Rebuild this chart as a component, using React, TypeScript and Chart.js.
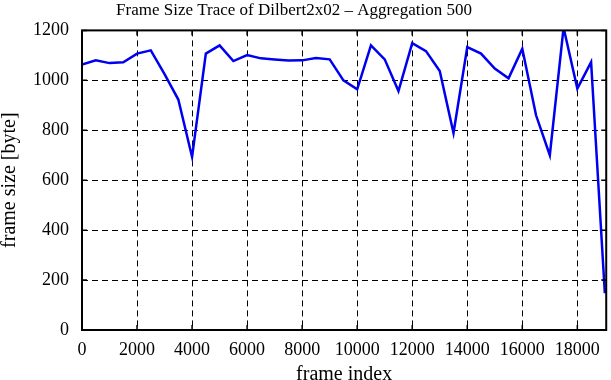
import React, { useEffect, useRef } from "react";
import { Chart, registerables } from "chart.js";

Chart.register(...registerables);

const frameIndex = [
  0, 500, 1000, 1500, 2000, 2500, 3000, 3500, 4000, 4500, 5000, 5500, 6000, 6500, 7000, 7500,
  8000, 8500, 9000, 9500, 10000, 10500, 11000, 11500, 12000, 12500, 13000, 13500, 14000, 14500,
  15000, 15500, 16000, 16500, 17000, 17500, 18000, 18500, 19000,
];
const frameSize = [
  1063, 1080, 1069, 1072, 1107, 1120, 1025, 923, 693, 1107, 1140, 1077, 1101, 1088, 1083, 1079,
  1080, 1089, 1084, 1000, 964, 1140, 1084, 957, 1149, 1117, 1037, 789, 1133, 1107,
  1047, 1008, 1127, 860, 700, 1211, 967, 1073, 147,
];
const xTicks = [0, 2000, 4000, 6000, 8000, 10000, 12000, 14000, 16000, 18000];
const yTicks = [0, 200, 400, 600, 800, 1000, 1200];

const FONT = "'Liberation Serif', 'DejaVu Serif', serif";

const framePlugin = {
  id: "frameBox",
  afterDraw(chart: any) {
    const { ctx, chartArea } = chart;
    const { left, right, top, bottom } = chartArea;
    ctx.save();
    ctx.strokeStyle = "#000";
    ctx.lineWidth = 2;
    ctx.setLineDash([]);
    ctx.strokeRect(left, top, right - left, bottom - top);
    ctx.lineWidth = 1.5;
    const ys = chart.scales.y;
    ys.ticks.forEach((t: any) => {
      const py = ys.getPixelForValue(t.value);
      ctx.beginPath();
      ctx.moveTo(left, py);
      ctx.lineTo(left + 5, py);
      ctx.moveTo(right, py);
      ctx.lineTo(right - 5, py);
      ctx.stroke();
    });
    const xs = chart.scales.x;
    xs.ticks.forEach((t: any) => {
      const px = xs.getPixelForValue(t.value);
      ctx.beginPath();
      ctx.moveTo(px, bottom);
      ctx.lineTo(px, bottom - 5);
      ctx.moveTo(px, top);
      ctx.lineTo(px, top + 5);
      ctx.stroke();
    });
    ctx.restore();
  },
};

export default function App() {
  const ref = useRef<HTMLCanvasElement | null>(null);
  useEffect(() => {
    document.body.style.margin = "0";
    if (!ref.current) return;
    const chart = new Chart(ref.current, {
      type: "line",
      data: {
        datasets: [
          {
            data: frameIndex.map((x, i) => ({ x, y: frameSize[i] })),
            borderColor: "#0000f0",
            borderWidth: 2.5,
            pointRadius: 0,
            tension: 0,
            fill: false,
          },
        ],
      },
      options: {
        animation: false,
        responsive: false,
        maintainAspectRatio: false,
        layout: { padding: { left: -20, right: 3, top: 0, bottom: -3 } },
        plugins: {
          legend: { display: false },
          tooltip: { enabled: false },
          title: {
            display: true,
            text: "Frame Size Trace of Dilbert2x02 \u2013 Aggregation 500",
            color: "#000",
            font: { family: FONT, size: 17, weight: "normal", lineHeight: 1.2 },
            padding: { top: 0, bottom: 10 },
          },
        },
        scales: {
          x: {
            type: "linear",
            min: 0,
            max: 19050,
            afterBuildTicks: (s: any) => {
              s.ticks = xTicks.map((v) => ({ value: v }));
            },
            ticks: {
              color: "#000",
              font: { family: FONT, size: 18, lineHeight: 1 },
              maxRotation: 0,
              autoSkip: false,
              padding: 11,
              callback: (v: any) => String(v),
            },
            grid: { color: "#000", lineWidth: 1, drawTicks: false },
            border: { display: false, dash: [6, 4] },
            title: {
              display: true,
              text: "frame index",
              color: "#000",
              font: { family: FONT, size: 20, lineHeight: 1 },
              padding: { top: -5, bottom: -2 },
            },
          },
          y: {
            type: "linear",
            min: 0,
            max: 1200,
            afterBuildTicks: (s: any) => {
              s.ticks = yTicks.map((v) => ({ value: v }));
            },
            ticks: {
              color: "#000",
              font: { family: FONT, size: 18 },
              padding: 13,
              callback: (v: any) => String(v),
            },
            grid: { color: "#000", lineWidth: 1, drawTicks: false },
            border: { display: false, dash: [6, 4] },
            title: {
              display: true,
              text: "frame size [byte]",
              color: "#000",
              font: { family: FONT, size: 20, lineHeight: 1 },
              padding: { top: 20, bottom: 0 },
            },
          },
        },
      },
      plugins: [framePlugin],
    });
    return () => chart.destroy();
  }, []);
  return (
    <div style={{ width: 611, height: 380 }}>
      <canvas ref={ref} width={611} height={380} />
    </div>
  );
}
